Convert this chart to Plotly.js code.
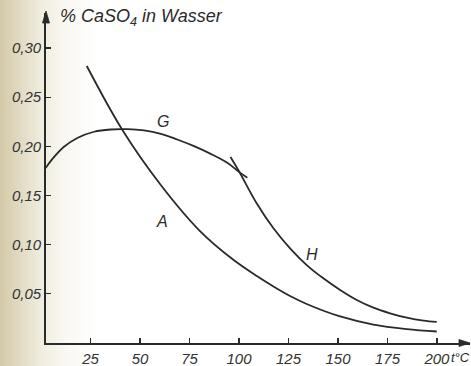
<!DOCTYPE html>
<html>
<head>
<meta charset="utf-8">
<script src="https://cdn.plot.ly/plotly-3.0.1.min.js"></script>
<style>
  html, body { margin:0; padding:0; }
  body { width:471px; height:366px; overflow:hidden;
    background: linear-gradient(to right, #d3caa9 0px, #e0d9c0 18px, #efebdd 40px, #f9f8f2 65px, #ffffff 100px); }
  #chart { width:471px; height:366px; }
</style>
</head>
<body>
<div id="chart"></div>
<script>
// Gypsum curve G
const gT = [2.3, 6.5, 11.6, 18.3, 26.8, 35.2, 43.6, 52, 60.5, 68.8, 77.3, 85.7, 94.1, 100, 104.2];
const gY = [0.178, 0.189, 0.1996, 0.2086, 0.2149, 0.2172, 0.2175, 0.2162, 0.2128, 0.2070, 0.2002, 0.1924, 0.1833, 0.1741, 0.1680];
// Anhydrite curve A
const aT = [23.1, 41.1, 60.1, 80.3, 97.0, 109.0, 117.4, 125.8, 134.2, 151.1, 167.9, 184.8, 199.9];
const aY = [0.2818, 0.2167, 0.1618, 0.1139, 0.0849, 0.0681, 0.0575, 0.0478, 0.0397, 0.0270, 0.0188, 0.0142, 0.0117];
// Hemihydrate curve H
const hT = [95.7, 100.0, 109.0, 117.4, 125.8, 134.2, 142.6, 151.1, 159.5, 167.9, 176.3, 184.8, 193.2, 199.9];
const hY = [0.1892, 0.1747, 0.1419, 0.1167, 0.0963, 0.0793, 0.0658, 0.0539, 0.0437, 0.0359, 0.0302, 0.0257, 0.0227, 0.0214];

const xTicks = [25, 50, 75, 100, 125, 150, 175, 200];
const xTickText = ["25", "50", "75", "100", "125", "150", "175", "200"];
const yTicks = [0.05, 0.10, 0.15, 0.20, 0.25, 0.30];
const yTickText = ["0,05", "0,10", "0,15", "0,20", "0,25", "0,30"];

const curveLabels = [
  {text: "G", x: 61.6, y: 0.225},
  {text: "A", x: 61, y: 0.124},
  {text: "H", x: 137, y: 0.090}
];

const FONT = "Liberation Sans, Arial, sans-serif";
const INK = "#2a2a2a";

const lineStyle = {color: INK, width: 1.8, shape: "spline", smoothing: 1};
const traces = [
  {x: gT, y: gY, mode: "lines", line: lineStyle, hoverinfo: "skip"},
  {x: aT, y: aY, mode: "lines", line: lineStyle, hoverinfo: "skip"},
  {x: hT, y: hY, mode: "lines", line: lineStyle, hoverinfo: "skip"}
];

const annotations = curveLabels.map(l => ({
  text: l.text, x: l.x, y: l.y, xref: "x", yref: "y", showarrow: false,
  font: {family: FONT, size: 16, color: INK, style: "italic"}
}));
annotations.push({
  text: "% CaSO<sub>4</sub> in Wasser", xref: "paper", yref: "paper",
  x: 0.028, y: 0.985, xanchor: "left", yanchor: "middle", showarrow: false,
  font: {family: FONT, size: 18, color: INK, style: "italic"}
});
annotations.push({
  text: "t°C", xref: "x", yref: "paper", x: 206.2, y: 0, yshift: -14,
  xanchor: "left", yanchor: "middle", showarrow: false,
  font: {family: FONT, size: 13, color: INK, style: "italic"}
});

// axis arrowheads (pixel-sized shapes anchored at the axis ends)
const shapes = [
  {type: "path", xref: "paper", yref: "paper", xsizemode: "pixel", ysizemode: "pixel",
   xanchor: 0, yanchor: 1, path: "M0,2 L-3.5,-10 L3.5,-10 Z",
   fillcolor: INK, line: {color: INK, width: 0.8}},
  {type: "path", xref: "paper", yref: "paper", xsizemode: "pixel", ysizemode: "pixel",
   xanchor: 1, yanchor: 0, path: "M0,0 L-11,3.5 L-11,-3.5 Z",
   fillcolor: INK, line: {color: INK, width: 0.8}}
];

const layout = {
  width: 471, height: 366,
  margin: {l: 46, r: 1, t: 13, b: 23},
  paper_bgcolor: "rgba(0,0,0,0)",
  plot_bgcolor: "rgba(0,0,0,0)",
  showlegend: false,
  xaxis: {
    range: [2.5, 216.7], showgrid: false, zeroline: false,
    showline: true, linecolor: INK, linewidth: 1.8,
    ticks: "inside", ticklen: 5, tickwidth: 1.2, tickcolor: INK,
    tickvals: xTicks, ticktext: xTickText, ticklabelstandoff: 1,
    tickfont: {family: FONT, size: 15, color: "#333", style: "italic"}
  },
  yaxis: {
    range: [0, 0.3357], showgrid: false, zeroline: false,
    showline: true, linecolor: INK, linewidth: 1.8,
    ticks: "inside", ticklen: 5, tickwidth: 1.2, tickcolor: INK,
    tickvals: yTicks, ticktext: yTickText,
    tickfont: {family: FONT, size: 15, color: "#333", style: "italic"}
  },
  shapes: shapes,
  annotations: annotations
};

Plotly.newPlot("chart", traces, layout, {staticPlot: true, displayModeBar: false});
</script>
</body>
</html>
